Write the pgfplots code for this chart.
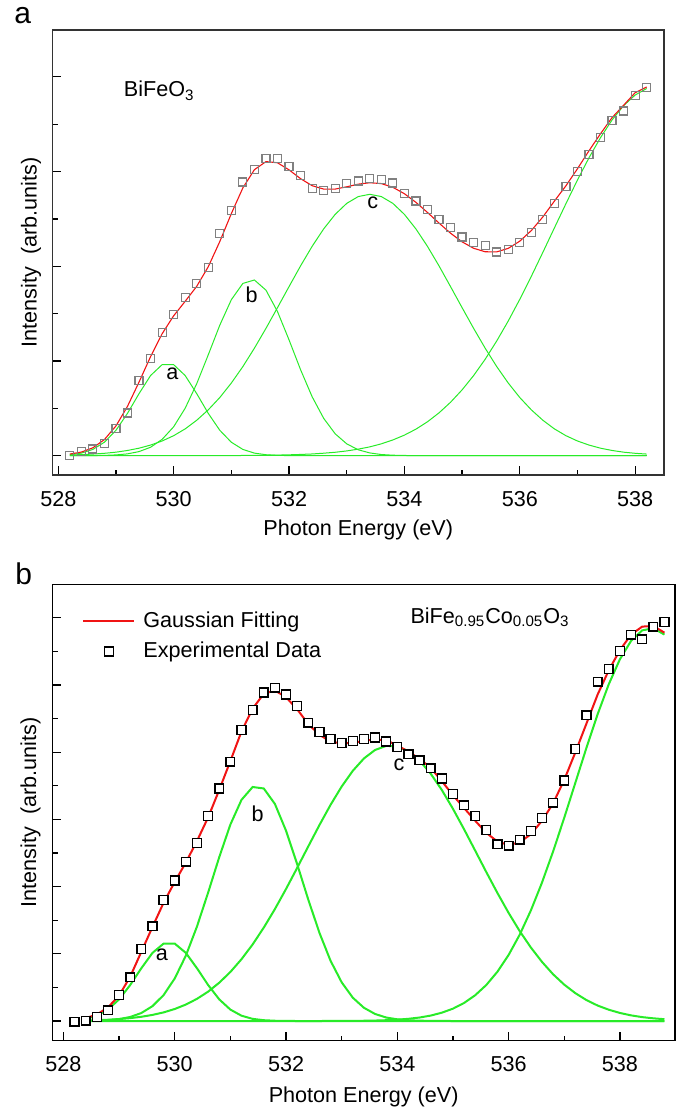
\documentclass[border=0pt]{standalone}
\usepackage{fontspec}
\setmainfont{Liberation Sans}
\usepackage{pgfplots}
\usepackage{pgfplotstable}
\pgfplotsset{compat=1.18}

\definecolor{fitred}{RGB}{240,20,20}
\definecolor{peakgreen}{RGB}{40,235,40}
\definecolor{datagray}{RGB}{128,128,128}

% x  exp  fit  ga  gb  gc  gd
\pgfplotstableread{
x exp fit ga gb gc gd
528.2 0.00 0.017 0.010 0.000 0.007 0.000
528.4 0.04 0.038 0.027 0.000 0.011 0.000
528.6 0.07 0.083 0.066 0.001 0.017 0.000
528.8 0.13 0.170 0.142 0.003 0.025 0.000
529.0 0.29 0.314 0.268 0.008 0.037 0.000
529.2 0.45 0.521 0.447 0.019 0.055 0.000
529.4 0.79 0.777 0.655 0.043 0.079 0.000
529.6 1.03 1.046 0.846 0.089 0.112 0.000
529.8 1.30 1.287 0.961 0.172 0.155 0.000
530.0 1.49 1.477 0.961 0.305 0.211 0.000
530.2 1.67 1.630 0.846 0.501 0.283 0.000
530.4 1.82 1.788 0.655 0.760 0.374 0.000
530.6 1.99 1.995 0.447 1.065 0.484 0.000
530.8 2.35 2.261 0.268 1.378 0.614 0.000
531.0 2.59 2.556 0.142 1.647 0.767 0.001
531.2 2.89 2.828 0.066 1.819 0.941 0.002
531.4 3.02 3.020 0.027 1.855 1.135 0.003
531.6 3.14 3.105 0.010 1.748 1.344 0.004
531.8 3.14 3.093 0.003 1.522 1.563 0.006
532.0 3.05 3.018 0.001 1.223 1.785 0.009
532.2 2.96 2.925 0.000 0.908 2.004 0.013
532.4 2.82 2.851 0.000 0.623 2.210 0.018
532.6 2.80 2.815 0.000 0.395 2.394 0.026
532.8 2.82 2.815 0.000 0.231 2.548 0.036
533.0 2.87 2.839 0.000 0.125 2.664 0.050
533.2 2.90 2.867 0.000 0.062 2.736 0.069
533.4 2.93 2.882 0.000 0.029 2.760 0.093
533.6 2.92 2.873 0.000 0.012 2.736 0.125
533.8 2.88 2.834 0.000 0.005 2.664 0.166
534.0 2.77 2.766 0.000 0.002 2.548 0.217
534.2 2.69 2.675 0.000 0.001 2.394 0.280
534.4 2.60 2.568 0.000 0.000 2.210 0.358
534.6 2.49 2.456 0.000 0.000 2.004 0.452
534.8 2.41 2.349 0.000 0.000 1.785 0.564
535.0 2.31 2.258 0.000 0.000 1.563 0.695
535.2 2.25 2.190 0.000 0.000 1.344 0.846
535.4 2.22 2.153 0.000 0.000 1.135 1.018
535.6 2.15 2.152 0.000 0.000 0.941 1.211
535.8 2.18 2.189 0.000 0.000 0.767 1.422
536.0 2.25 2.265 0.000 0.000 0.614 1.651
536.2 2.36 2.377 0.000 0.000 0.484 1.894
536.4 2.49 2.521 0.000 0.000 0.374 2.147
536.6 2.66 2.688 0.000 0.000 0.283 2.405
536.8 2.84 2.850 0.000 0.000 0.211 2.661
537.0 3.00 3.030 0.000 0.000 0.155 2.911
537.2 3.18 3.220 0.000 0.000 0.112 3.146
537.4 3.36 3.400 0.000 0.000 0.079 3.359
537.6 3.54 3.570 0.000 0.000 0.055 3.545
537.8 3.64 3.700 0.000 0.000 0.037 3.696
538.0 3.80 3.833 0.000 0.000 0.025 3.808
538.2 3.89 3.893 0.000 0.000 0.017 3.877
}\toptable

\pgfplotstableread{
x exp fit ga gb gc gd
528.2 -0.01 nan nan nan nan nan
528.4 0.005 0.042 0.032 0.002 0.008 0.000
528.6 0.06 0.097 0.079 0.005 0.012 0.000
528.8 0.16 0.202 0.170 0.013 0.019 0.000
529.0 0.39 0.379 0.322 0.029 0.029 0.000
529.2 0.65 0.660 0.536 0.060 0.043 0.000
529.4 1.07 1.030 0.785 0.119 0.063 0.000
529.6 1.41 1.400 1.014 0.221 0.091 0.000
529.8 1.80 1.760 1.152 0.386 0.128 0.000
530.0 2.09 2.070 1.152 0.633 0.179 0.000
530.2 2.37 2.360 1.014 0.973 0.245 0.000
530.4 2.65 2.680 0.785 1.407 0.330 0.000
530.6 3.05 3.030 0.536 1.911 0.437 0.000
530.8 3.46 3.440 0.322 2.439 0.570 0.000
531.0 3.86 3.870 0.170 2.924 0.730 0.000
531.2 4.33 4.310 0.079 3.292 0.920 0.000
531.4 4.63 4.650 0.032 3.483 1.140 0.000
531.6 4.89 4.870 0.012 3.461 1.390 0.000
531.8 4.96 4.920 0.004 3.231 1.666 0.000
532.0 4.86 4.820 0.001 2.833 1.965 0.000
532.2 4.69 4.640 0.000 2.335 2.279 0.000
532.4 4.44 4.420 0.000 1.807 2.599 0.000
532.6 4.30 4.260 0.000 1.314 2.916 0.000
532.8 4.20 4.160 0.000 0.897 3.217 0.001
533.0 4.14 4.130 0.000 0.576 3.490 0.001
533.2 4.17 4.140 0.000 0.347 3.724 0.002
533.4 4.20 4.170 0.000 0.197 3.908 0.004
533.6 4.22 4.190 0.000 0.105 4.034 0.007
533.8 4.16 4.180 0.000 0.052 4.095 0.012
534.0 4.08 4.100 0.000 0.025 4.088 0.020
534.2 3.97 4.010 0.000 0.011 4.014 0.033
534.4 3.88 3.900 0.000 0.005 3.876 0.052
534.6 3.76 3.770 0.000 0.002 3.681 0.081
534.8 3.61 3.570 0.000 0.001 3.438 0.124
535.0 3.38 3.360 0.000 0.000 3.158 0.184
535.2 3.21 3.170 0.000 0.000 2.853 0.269
535.4 3.05 2.980 0.000 0.000 2.535 0.384
535.6 2.84 2.800 0.000 0.000 2.215 0.537
535.8 2.63 2.670 0.000 0.000 1.904 0.735
536.0 2.61 2.620 0.000 0.000 1.609 0.983
536.2 2.70 2.660 0.000 0.000 1.337 1.286
536.4 2.83 2.780 0.000 0.000 1.094 1.646
536.6 3.02 2.980 0.000 0.000 0.880 2.061
536.8 3.25 3.240 0.000 0.000 0.695 2.525
537.0 3.58 3.590 0.000 0.000 0.541 3.026
537.2 4.05 4.000 0.000 0.000 0.414 3.548
537.4 4.55 4.430 0.000 0.000 0.311 4.070
537.6 5.05 4.860 0.000 0.000 0.230 4.567
537.8 5.24 5.220 0.000 0.000 0.168 5.013
538.0 5.51 5.520 0.000 0.000 0.120 5.384
538.2 5.75 5.750 0.000 0.000 0.084 5.657
538.4 5.68 5.870 0.000 0.000 0.058 5.814
538.6 5.87 5.880 0.000 0.000 0.040 5.846
538.8 5.94 5.780 0.000 0.000 0.027 5.751
}\bottable

\pgfplotsset{
  xpspanel/.style={
    scale only axis,
    anchor=south west,
    axis line style={line width=0.75pt},
    every tick/.style={black, line width=0.6pt},
    major tick length=4.3pt,
    minor tick length=2.6pt,
    tick align=inside,
    xtick pos=bottom,
    ytick pos=left,
    xtick={528,530,...,538},
    minor x tick num=1,
    minor y tick num=1,
    yticklabels={},
    /pgf/number format/assume math mode=true,
    /pgf/number format/set thousands separator={},
    xticklabel style={inner sep=0pt, anchor=north, yshift=-7.8pt},
    xlabel={Photon Energy (eV)},
    ylabel={Intensity\ \ (arb.units)},
    ylabel style={at={(axis description cs:-0.018,0.5)}, anchor=south, inner sep=0pt},
    clip=false,
  },
  linelegend/.style={legend image code/.code={\draw[##1] (0cm,0cm) -- (0.9cm,0cm);}},
  marklegend/.style={legend image code/.code={\draw[##1] plot coordinates {(0.45cm,0cm)};}},
}

\begin{document}
\begin{tikzpicture}[every node/.append style={font=\fontsize{10.8}{12.5}\selectfont}]
\path[use as bounding box] (0pt,0pt) rectangle (340pt,554pt);
\node[anchor=base west, inner sep=0pt, font=\fontsize{15}{17}\selectfont] at (7pt,542pt) {a};
\node[anchor=base west, inner sep=0pt, font=\fontsize{15}{17}\selectfont] at (7.5pt,261.5pt) {b};

% panel a
\begin{axis}[xpspanel,
  at={(26.25pt,316.5pt)}, width=305.75pt, height=222.5pt,
  xmin=527.9, xmax=538.5, ymin=-0.204, ymax=4.495,
  ytick={0,1,...,4},
  axis line style={line width=0.75pt, black!80},
  xlabel style={at={(axis description cs:0.5,-0.101)}, anchor=north, inner sep=0pt},
]
\addplot[peakgreen, line width=0.5pt] coordinates {(528.2,0) (538.2,0)};
\addplot[peakgreen, line width=0.5pt] table[x=x, y=ga] {\toptable};
\addplot[peakgreen, line width=0.5pt] table[x=x, y=gb] {\toptable};
\addplot[peakgreen, line width=0.5pt] table[x=x, y=gc] {\toptable};
\addplot[peakgreen, line width=0.5pt] table[x=x, y=gd] {\toptable};
\addplot[only marks, mark=square, mark size=2pt, datagray, mark options={line width=0.6pt}] table[x=x, y=exp] {\toptable};
\addplot[fitred, line width=0.55pt] table[x=x, y=fit] {\toptable};
\node at (axis cs:529.98,0.863) {a};
\node at (axis cs:531.35,1.70) {b};
\node at (axis cs:533.45,2.67) {c};
\node[anchor=base west, inner sep=0pt] at (axis cs:529.13,3.79) {BiFeO\textsubscript{3}};
\end{axis}

% panel b
\begin{axis}[xpspanel,
  at={(26.15pt,33.65pt)}, width=311.35pt, height=228.2pt,
  xmin=527.8, xmax=538.99, ymin=-0.293, ymax=6.50,
  ytick={0,1,...,6},
  axis line style={line width=0.75pt, black},
  xlabel style={at={(axis description cs:0.5,-0.1008)}, anchor=north, inner sep=0pt},
  legend style={draw=none, fill=none, at={(axis cs:528.33,6.16)}, anchor=north west,
    inner xsep=0pt, inner ysep=0pt, row sep=2pt,
    font=\fontsize{10.8}{12.5}\selectfont, cells={anchor=west},
    nodes={inner xsep=4pt}},
]
\addplot[peakgreen, line width=1pt, forget plot] coordinates {(528.4,0) (538.8,0)};
\addplot[peakgreen, line width=1pt, forget plot] table[x=x, y=ga] {\bottable};
\addplot[peakgreen, line width=1pt, forget plot] table[x=x, y=gb] {\bottable};
\addplot[peakgreen, line width=1pt, forget plot] table[x=x, y=gc] {\bottable};
\addplot[peakgreen, line width=1pt, forget plot] table[x=x, y=gd] {\bottable};
\addplot[fitred, line width=1pt, linelegend] table[x=x, y=fit] {\bottable};
\addlegendentry{Gaussian Fitting}
\addplot[only marks, mark=square*, mark size=2.2pt, black,
  mark options={fill=white, line width=0.7pt}, marklegend] table[x=x, y=exp] {\bottable};
\addlegendentry{Experimental Data}
\node at (axis cs:529.77,0.98) {a};
\node at (axis cs:531.49,3.09) {b};
\node at (axis cs:534.03,3.82) {c};
\node[anchor=base west, inner sep=0pt] at (axis cs:534.23,5.92) {BiFe\textsubscript{0.95}Co\textsubscript{0.05}O\textsubscript{3}};
\end{axis}
\end{tikzpicture}
\end{document}
